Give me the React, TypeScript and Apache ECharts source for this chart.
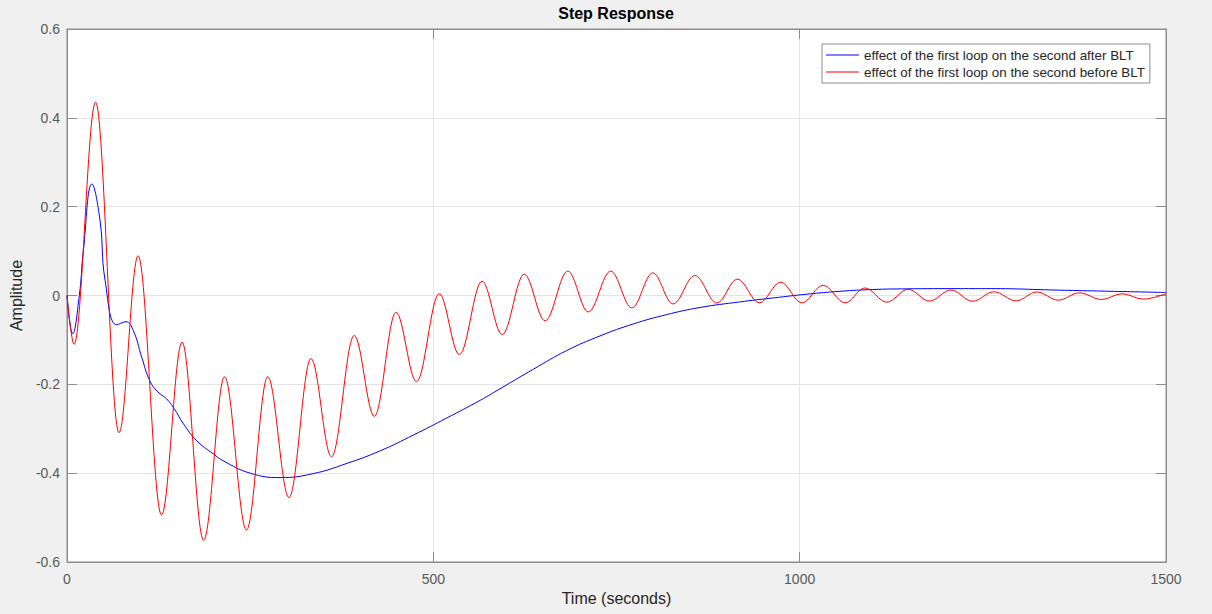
import { useEffect, useRef } from "react";
import * as echarts from "echarts";

// Step response, effect of the first loop on the second (time in seconds)

// Before BLT: turning points of the oscillating response
const beforeTime = [
  0, 9.6, 39, 71, 97, 129, 157, 186.5, 215, 245, 274, 303, 333, 361, 392, 419.5,
  449, 477, 508, 535.5, 566.5, 594, 624, 652.5, 683.5, 711.5, 742, 771, 799.5,
  827, 857, 887, 915, 945, 974, 1003, 1032, 1062, 1089, 1119, 1148, 1177,
  1206.5, 1236, 1265, 1295.5, 1323.6, 1353, 1381.8, 1412, 1440, 1469, 1500,
];
const beforeAmp = [
  0, -0.11, 0.435, -0.309, 0.0895, -0.494, -0.105, -0.551, -0.183, -0.528,
  -0.183, -0.455, -0.142, -0.363, -0.09, -0.272, -0.038, -0.194, 0.004, -0.133,
  0.032, -0.088, 0.048, -0.057, 0.055, -0.037, 0.055, -0.028, 0.051, -0.019,
  0.045, -0.017, 0.037, -0.0165, 0.03, -0.0165, 0.023, -0.0165, 0.017, -0.015,
  0.014, -0.0125, 0.0124, -0.013, 0.0083, -0.012, 0.0079, -0.0105, 0.006,
  -0.009, 0.004, -0.0083, 0.004,
];

// After BLT: smooth response
const afterTime = [
  0, 7.7, 16.8, 22.3, 34, 45, 52, 68, 80.5, 90.5, 102, 113, 124, 136, 146, 159,
  177, 200, 213, 250, 291, 336, 382, 427, 473, 518, 564, 591, 636.5, 682, 727.5,
  773, 818.5, 864, 918, 964, 1010, 1055, 1100, 1146, 1219, 1260, 1355, 1500,
];
const afterAmp = [
  0, -0.086, 0, 0.1, 0.251, 0.17, 0.034, -0.066, -0.059, -0.079, -0.139,
  -0.192, -0.217, -0.233, -0.254, -0.289, -0.327, -0.357, -0.372, -0.4, -0.41,
  -0.401, -0.378, -0.35, -0.314, -0.276, -0.236, -0.21, -0.166, -0.124,
  -0.091, -0.064, -0.043, -0.027, -0.0145, -0.0055, 0.003, 0.0095, 0.0135,
  0.015, 0.0155, 0.0155, 0.012, 0.0068,
];

const seriesNames = [
  "effect of the first loop on the second after BLT",
  "effect of the first loop on the second before BLT",
];

const FONT = "'Liberation Sans', Arial, Helvetica, sans-serif";
const AXIS_GRAY = "#8c8c8c";
const GRID_GRAY = "#e4e4e4";
const TICK_TEXT = "#595959";

const zip = (xs: number[], ys: number[]) => xs.map((x, i) => [x, ys[i]]);

export default function App() {
  const ref = useRef<HTMLDivElement>(null);

  useEffect(() => {
    if (!ref.current) return;
    const chart = echarts.init(ref.current, null, { renderer: "svg" });

    const boxAxis = (position: string, isX: boolean, showLabels: boolean) => ({
      type: "value",
      position,
      min: isX ? 0 : -0.6,
      max: isX ? 1500 : 0.6,
      interval: isX ? 500 : 0.2,
      axisLine: { show: true, onZero: false, lineStyle: { color: AXIS_GRAY, width: 1 } },
      axisTick: { show: true, inside: true, length: 10, lineStyle: { color: AXIS_GRAY } },
      axisLabel: showLabels
        ? {
            show: true,
            color: TICK_TEXT,
            fontSize: 14,
            fontFamily: FONT,
            margin: isX ? 10 : 7,
            formatter: isX
              ? (v: number) => String(v)
              : (v: number) => String(Math.round(v * 10) / 10),
          }
        : { show: false },
      splitLine: showLabels
        ? { show: true, lineStyle: { color: GRID_GRAY, width: 1 } }
        : { show: false },
    });

    chart.setOption({
      animation: false,
      backgroundColor: "#f0f0f0",
      textStyle: { fontFamily: FONT },
      grid: {
        left: 67,
        right: 46,
        top: 29,
        bottom: 52,
        show: true,
        backgroundColor: "#ffffff",
        borderColor: AXIS_GRAY,
        borderWidth: 1,
      },
      graphic: [
        {
          type: "text",
          x: 616,
          y: 13,
          style: {
            text: "Step Response",
            fill: "#000000",
            font: `bold 16px ${FONT}`,
            align: "center",
            verticalAlign: "middle",
          },
        },
      ],
      legend: {
        orient: "vertical",
        left: 822,
        top: 44,
        backgroundColor: "#ffffff",
        borderColor: AXIS_GRAY,
        borderWidth: 1,
        borderRadius: 0,
        padding: [4, 5, 4, 4],
        icon: "rect",
        itemWidth: 33,
        itemHeight: 1,
        itemGap: 3,
        textStyle: { color: "#262626", fontSize: 13.4, fontFamily: FONT, lineHeight: 14 },
        data: seriesNames,
      },
      xAxis: [
        {
          ...boxAxis("bottom", true, true),
          name: "Time (seconds)",
          nameLocation: "middle",
          nameGap: 28,
          nameTextStyle: { color: "#262626", fontSize: 16, fontFamily: FONT },
        },
        boxAxis("top", true, false),
      ],
      yAxis: [
        {
          ...boxAxis("left", false, true),
          name: "Amplitude",
          nameLocation: "middle",
          nameGap: 38,
          nameRotate: 90,
          nameTextStyle: { color: "#262626", fontSize: 16, fontFamily: FONT },
        },
        boxAxis("right", false, false),
      ],
      series: [
        {
          name: seriesNames[0],
          type: "line",
          data: zip(afterTime, afterAmp),
          symbol: "none",
          smooth: 0.45,
          lineStyle: { color: "#0000ff", width: 1 },
          itemStyle: { color: "#0000ff" },
        },
        {
          name: seriesNames[1],
          type: "line",
          data: zip(beforeTime, beforeAmp),
          symbol: "none",
          smooth: 0.36,
          smoothMonotone: "x",
          lineStyle: { color: "#ff0000", width: 1 },
          itemStyle: { color: "#ff0000" },
        },
      ],
    });

    return () => chart.dispose();
  }, []);

  return (
    <div
      ref={ref}
      style={{ position: "absolute", left: 0, top: 0, width: 1212, height: 614 }}
    />
  );
}
